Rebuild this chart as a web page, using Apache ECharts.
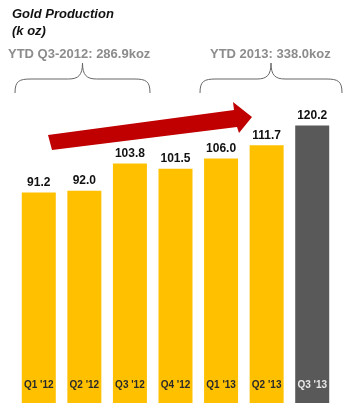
<!DOCTYPE html>
<html>
<head>
<meta charset="utf-8">
<script src="https://cdn.jsdelivr.net/npm/echarts@6/dist/echarts.min.js"></script>
<style>
  html, body { margin: 0; padding: 0; background: #fff; }
  #chart { width: 353px; height: 420px; }
</style>
</head>
<body>
<div id="chart"></div>
<script>
// quarters and gold production (koz)
const quarters = ["Q1 '12", "Q2 '12", "Q3 '12", "Q4 '12", "Q1 '13", "Q2 '13", "Q3 '13"];
const production = [91.2, 92.0, 103.8, 101.5, 106.0, 111.7, 120.2];
const ytdLabels = ["YTD Q3-2012: 286.9koz", "YTD 2013: 338.0koz"];

const YELLOW = '#ffc000';
const GREY = '#595959';
const FONT = '"Liberation Sans", Arial, sans-serif';

const chart = echarts.init(document.getElementById('chart'));

// curly brace made of bezier curves and lines, x1..x2, peak at y0, ends at y2
function brace(x1, x2, y0, y2) {
    const mid = (x1 + x2) / 2;
    const yh = y0 + 16;
    const st = { stroke: '#666', lineWidth: 1, fill: null };
    const bz = (a, b, c, d) => ({
        type: 'bezierCurve',
        shape: { x1: a[0], y1: a[1], cpx1: b[0], cpy1: b[1], cpx2: c[0], cpy2: c[1], x2: d[0], y2: d[1] },
        style: st
    });
    const ln = (a, b) => ({
        type: 'line', shape: { x1: a[0], y1: a[1], x2: b[0], y2: b[1] }, style: st
    });
    return [
        bz([x1, y2], [x1, yh + 2], [x1 + 4, yh], [x1 + 16, yh]),
        ln([x1 + 16, yh], [mid - 14, yh]),
        bz([mid - 14, yh], [mid - 4, yh], [mid, yh - 4], [mid, y0]),
        bz([mid, y0], [mid, yh - 4], [mid + 4, yh], [mid + 14, yh]),
        ln([mid + 14, yh], [x2 - 16, yh]),
        bz([x2 - 16, yh], [x2 - 4, yh], [x2, yh + 2], [x2, y2])
    ];
}

const option = {
    animation: false,
    grid: { left: 16, right: 18, top: 103, bottom: 17 },
    xAxis: {
        type: 'category',
        data: quarters,
        z: 5,
        axisLine: { show: false },
        axisTick: { show: false },
        axisLabel: {
            inside: true,
            margin: 13,
            fontFamily: FONT,
            fontSize: 10,
            fontWeight: 'bold',
            color: (v, i) => i === quarters.length - 1 ? '#e8e8e8' : '#2a2a2a'
        }
    },
    yAxis: { type: 'value', min: 0, max: 130, show: false },
    series: [{
        type: 'bar',
        barWidth: 34,
        data: production.map((v, i) => ({
            value: v,
            itemStyle: { color: i === production.length - 1 ? GREY : YELLOW }
        })),
        label: {
            show: true,
            position: 'top',
            distance: 4,
            fontFamily: FONT,
            fontSize: 12,
            fontWeight: 'bold',
            color: '#111',
            formatter: (p) => p.value.toFixed(1)
        }
    }],
    graphic: [
        {
            type: 'text', x: 12, y: 6,
            style: {
                text: 'Gold Production\n(k oz)',
                font: 'italic bold 13px ' + FONT,
                lineHeight: 17, fill: '#111'
            }
        },
        {
            type: 'text', x: 8, y: 48,
            style: { text: ytdLabels[0], font: 'bold 13px ' + FONT, fill: '#8c8c8c' }
        },
        {
            type: 'text', x: 210, y: 48,
            style: { text: ytdLabels[1], font: 'bold 13px ' + FONT, fill: '#8c8c8c' }
        },
        {
            type: 'polygon',
            shape: {
                points: [[48, 135], [234, 110], [233, 102], [252, 117], [239, 133], [237, 127], [52, 150]]
            },
            style: { fill: '#c00000' }
        }
    ].concat(brace(15, 150, 63, 93), brace(200, 342, 63, 93))
};

chart.setOption(option);
</script>
</body>
</html>
